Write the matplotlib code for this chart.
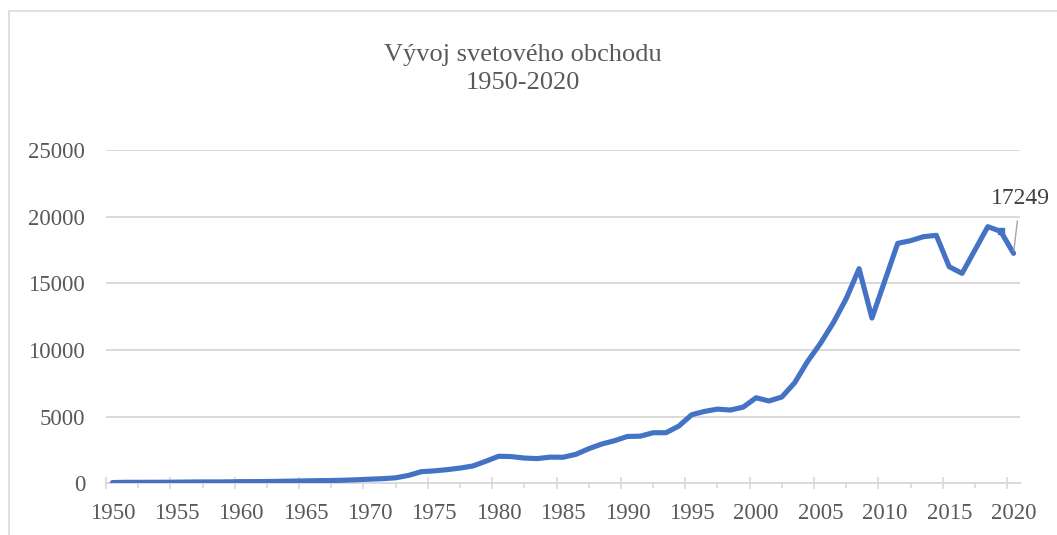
import matplotlib
matplotlib.use("Agg")
import matplotlib.pyplot as plt
from matplotlib.patches import Rectangle

# world trade 1950-2020
years = list(range(1950, 2021))
trade = [62, 82, 80, 83, 86, 94, 104, 112, 108, 116,
         130, 134, 142, 155, 173, 188, 206, 216, 239, 274,
         317, 354, 419, 600, 880, 940, 1030, 1150, 1307, 1659,
         2036, 2010, 1900, 1860, 1970, 1960, 2180, 2600, 2950, 3200,
         3520, 3540, 3800, 3800, 4300, 5150, 5400, 5570, 5500, 5720,
         6420, 6180, 6480, 7550, 9150, 10500, 12050, 13850, 16100, 12400,
         15200, 18000, 18200, 18500, 18600, 16250, 15750, 17500, 19250, 18900,
         17249]
label_years = list(range(1950, 2021, 5))
y_ticks = [0, 5000, 10000, 15000, 20000, 25000]
title = "Vývoj svetového obchodu\n1950-2020"

plt.rcParams['font.family'] = ['Liberation Serif', 'DejaVu Serif']
txt = '#595959'
grid = '#d9d9d9'
blue = '#4472C4'

W, H = 1057, 535
fig = plt.figure(figsize=(W / 100, H / 100), dpi=100)
ax = fig.add_axes([106 / W, (H - 483.4) / H, 914 / W, 333.4 / H])

ax.plot(years, trade, color=blue, lw=3.7, solid_joinstyle='round',
        solid_capstyle='round', zorder=3)
ax.plot(years[-2], trade[-2], marker='s', ms=5, color=blue, zorder=3)

ax.set_xlim(1949.5, 2020.5)
ax.set_ylim(0, 25000)
ax.set_yticks(y_ticks)
ax.set_yticklabels([str(v) for v in y_ticks])
ax.yaxis.grid(True, color=grid, lw=1.4)
ax.set_axisbelow(True)
ax.tick_params(axis='y', length=0, pad=15, labelsize=16.5, labelcolor=txt)

ax.set_xticks(label_years)
ax.set_xticklabels([str(y) for y in label_years])
ax.tick_params(axis='x', which='major', length=0, pad=14, labelsize=16.5,
               labelcolor=txt)
ax.set_xticks([y - 0.5 for y in label_years], minor=True)
ax.tick_params(axis='x', which='minor', direction='inout', length=8,
               width=1.2, color=grid)

# extra short ticks halfway between the boundary ticks
sec = ax.secondary_xaxis('bottom')
sec.set_xticks([y + 2 for y in label_years[:-1]])
sec.tick_params(direction='out', length=3.5, width=1.2, color=grid,
                labelbottom=False)
sec.spines['bottom'].set_visible(False)

for s in ['top', 'right', 'left']:
    ax.spines[s].set_visible(False)
ax.spines['bottom'].set_color(grid)
ax.spines['bottom'].set_linewidth(1.4)

ax.annotate(str(trade[-1]), xy=(years[-1], trade[-1]),
            xytext=(2020.5, 21400), textcoords='data',
            ha='center', va='center', fontsize=17, color='#404040',
            annotation_clip=False,
            arrowprops=dict(arrowstyle='-', color='#a6a6a6', lw=1,
                            shrinkA=7, shrinkB=2))

fig.text(523 / W, 1 - 69 / H, title, ha='center', va='center',
         fontsize=19, color=txt, linespacing=1.4)

fig.patches.append(Rectangle((8.5 / W, -0.1), 1.2, 1.1 - 10.5 / H,
                             transform=fig.transFigure, fill=False,
                             ec=grid, lw=1.2))

fig.savefig('out.png', dpi=100)
